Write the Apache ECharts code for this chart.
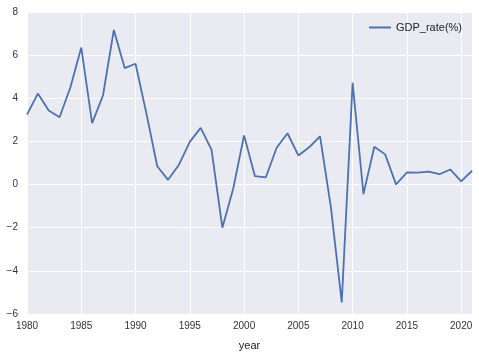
<!DOCTYPE html>
<html>
<head>
<meta charset="utf-8">
<script src="https://cdn.jsdelivr.net/npm/echarts@6/dist/echarts.min.js"></script>
<style>html,body{margin:0;padding:0;background:#fff}#c{width:479px;height:356px}</style>
</head>
<body>
<div id="c"></div>
<script>
const years = [1980,1981,1982,1983,1984,1985,1986,1987,1988,1989,1990,1991,1992,1993,1994,1995,1996,1997,1998,1999,2000,2001,2002,2003,2004,2005,2006,2007,2008,2009,2010,2011,2012,2013,2014,2015,2016,2017,2018,2019,2020,2021];
const gdpRate = [3.24,4.22,3.43,3.12,4.51,6.35,2.85,4.13,7.17,5.40,5.60,3.30,0.85,0.22,0.92,1.98,2.63,1.62,-2.00,-0.18,2.28,0.39,0.33,1.71,2.38,1.35,1.73,2.23,-1.06,-5.46,4.72,-0.44,1.75,1.40,0.01,0.56,0.55,0.60,0.48,0.70,0.15,0.64];
const seriesName = 'GDP_rate(%)';
const xTitle = 'year';

const chart = echarts.init(document.getElementById('c'));
const fontFam = '"Liberation Sans", Arial, sans-serif';
chart.setOption({
  animation: false,
  grid: {left: 27, right: 7, top: 12, bottom: 38, show: true, backgroundColor: '#EAEAF2', borderWidth: 0},
  legend: {
    right: 12, top: 17, itemWidth: 22, itemHeight: 2, itemGap: 6,
    textStyle: {fontFamily: fontFam, fontSize: 11, color: '#222'},
    data: [{name: seriesName, icon: 'rect'}]
  },
  xAxis: {
    type: 'value', min: 1980, max: 2021, interval: 5,
    name: xTitle, nameLocation: 'middle', nameGap: 26,
    nameTextStyle: {fontFamily: fontFam, fontSize: 11, color: '#222'},
    axisLine: {show: false}, axisTick: {show: false},
    axisLabel: {fontFamily: fontFam, fontSize: 10, color: '#333', margin: 7, showMaxLabel: false,
      formatter: v => String(v)},
    splitLine: {show: true, lineStyle: {color: '#fff', width: 1}}
  },
  yAxis: {
    type: 'value', min: -6, max: 8, interval: 2,
    axisLine: {show: false}, axisTick: {show: false},
    axisLabel: {fontFamily: fontFam, fontSize: 10, color: '#333', margin: 9,
      formatter: v => String(v).replace('-', '\u2212')},
    splitLine: {show: true, lineStyle: {color: '#fff', width: 1}}
  },
  series: [{
    name: seriesName, type: 'line', showSymbol: false,
    data: years.map((y, i) => [y, gdpRate[i]]),
    lineStyle: {color: '#4C72B0', width: 1.8},
    itemStyle: {color: '#4C72B0'}
  }]
});
</script>
</body>
</html>
